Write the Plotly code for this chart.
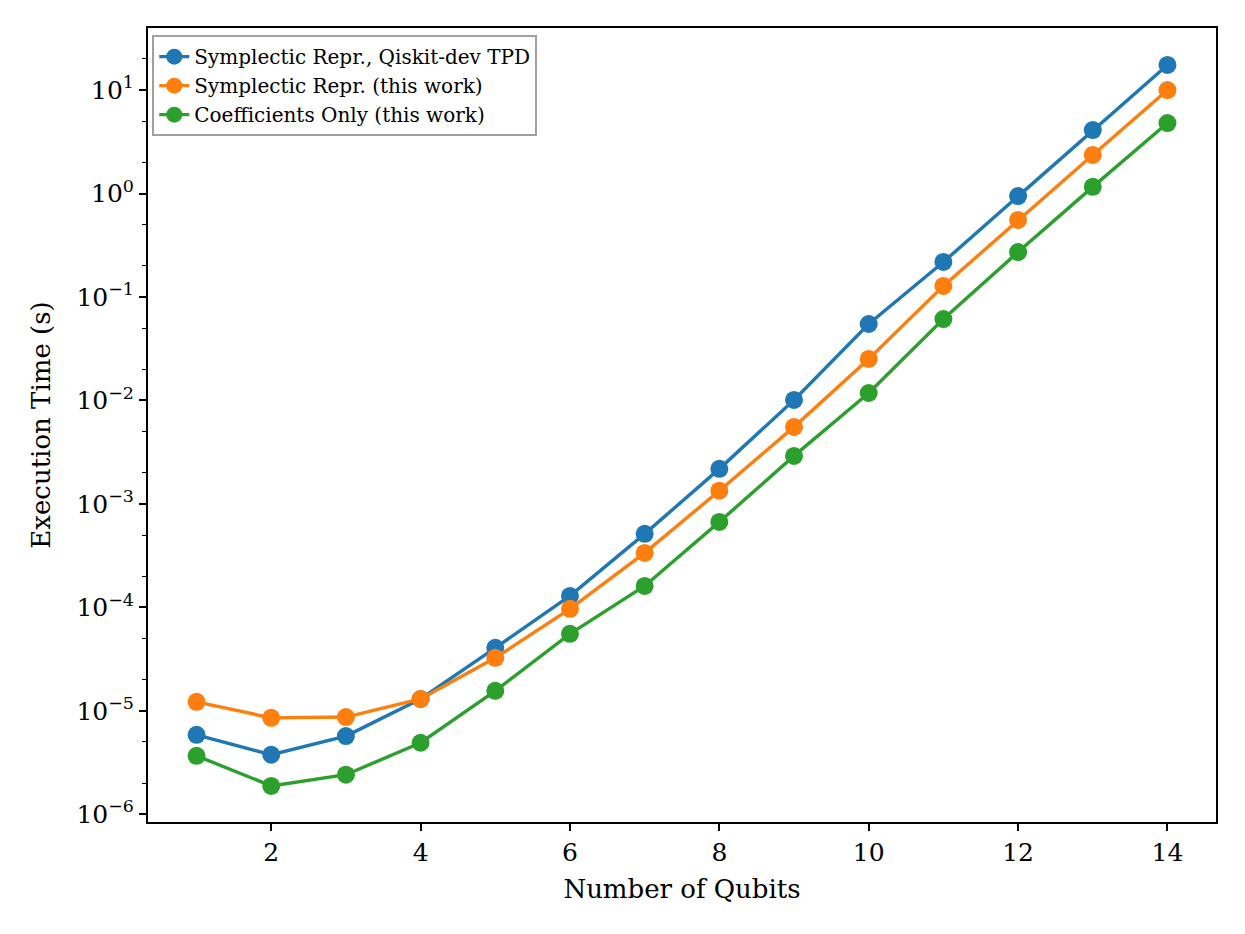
import plotly.graph_objects as go

qubits = list(range(1, 15))
qiskit_tpd = [5.86e-6, 3.76e-6, 5.7e-6, 1.3e-5, 4.06e-5, 1.29e-4, 5.13e-4, 2.18e-3,
              1.01e-2, 5.48e-2, 0.218, 0.946, 4.11, 17.5]
symplectic_this = [1.22e-5, 8.55e-6, 8.7e-6, 1.3e-5, 3.25e-5, 9.68e-5, 3.36e-4, 1.34e-3,
                   5.55e-3, 2.52e-2, 0.128, 0.555, 2.36, 10.0]
coeff_only = [3.67e-6, 1.88e-6, 2.41e-6, 4.91e-6, 1.56e-5, 5.55e-5, 1.61e-4, 6.7e-4,
              2.91e-3, 1.18e-2, 6.12e-2, 0.272, 1.16, 4.8]

series_names = ["Symplectic Repr., Qiskit-dev TPD", "Symplectic Repr. (this work)",
                "Coefficients Only (this work)"]
series_values = [qiskit_tpd, symplectic_this, coeff_only]
colors = ["#1f77b4", "#ff7f0e", "#2ca02c"]

x_ticks = [2, 4, 6, 8, 10, 12, 14]
y_tickvals = [1e-6, 1e-5, 1e-4, 1e-3, 1e-2, 1e-1, 1e0, 1e1]
y_ticktext = ["10<sup>−6</sup>", "10<sup>−5</sup>", "10<sup>−4</sup>", "10<sup>−3</sup>",
              "10<sup>−2</sup>", "10<sup>−1</sup>", "10<sup>0</sup>", "10<sup>1</sup>"]

font = "DejaVu Serif"

fig = go.Figure()
for name, vals, c in zip(series_names, series_values, colors):
    fig.add_trace(go.Scatter(
        x=qubits, y=vals, name=name, mode="lines+markers",
        line=dict(color=c, width=3.4),
        marker=dict(color=c, size=18),
    ))

fig.update_layout(
    width=1245, height=934,
    paper_bgcolor="white", plot_bgcolor="white",
    margin=dict(l=140, r=37, t=20, b=120),
    font=dict(family=font, size=25, color="black"),
    showlegend=True,
    legend=dict(
        x=0.004, y=0.991, xanchor="left", yanchor="top",
        bgcolor="rgba(255,255,255,0.8)", bordercolor="#a0a0a0", borderwidth=2,
        font=dict(family=font, size=20, color="black"),
        tracegroupgap=0, itemwidth=30,
    ),
    xaxis=dict(
        range=[0.35, 14.65], tickvals=x_ticks,
        showline=True, linecolor="black", linewidth=2, mirror=True,
        ticks="outside", ticklen=7, tickwidth=1.6, tickcolor="black",
        showgrid=False, zeroline=False,
        tickfont=dict(family=font, size=25),
        title=dict(text="Number of Qubits", font=dict(family=font, size=26), standoff=14),
    ),
    yaxis=dict(
        type="log", range=[-6.075, 1.6],
        tickvals=y_tickvals, ticktext=y_ticktext,
        showline=True, linecolor="black", linewidth=2, mirror=True,
        ticks="outside", ticklen=7, tickwidth=1.6, tickcolor="black",
        minor=dict(ticks="outside", ticklen=4, tickwidth=1.2, tickcolor="black", showgrid=False),
        showgrid=False, zeroline=False,
        tickfont=dict(family=font, size=25),
        title=dict(text="Execution Time (s)", font=dict(family=font, size=26), standoff=18),
    ),
)

fig.write_html("out.html")
